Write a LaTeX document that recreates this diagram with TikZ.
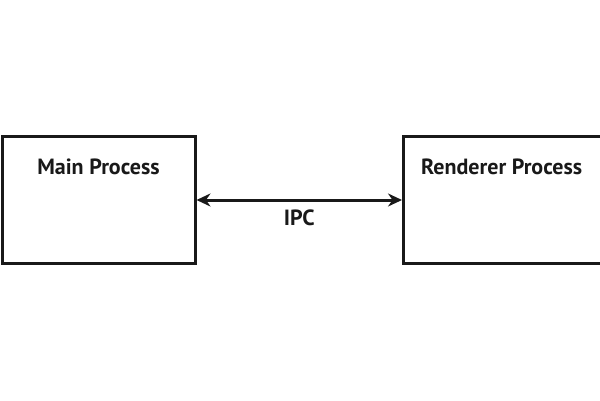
\documentclass[tikz,border=0pt]{standalone}
\usepackage{fontspec}
\setmainfont{PT Sans}
\usetikzlibrary{positioning,arrows.meta,calc}

\begin{document}
\begin{tikzpicture}[
  x=1pt,y=1pt,
  font=\fontsize{22}{26}\selectfont\bfseries,
  proc/.style={draw=black!90,line width=3pt,minimum width=193pt,minimum height=127pt,inner sep=0pt},
  title/.style={anchor=base,inner sep=0pt,text=black!90},
  ar/.style={{Stealth[length=14pt,width=13pt]}-{Stealth[length=14pt,width=13pt]},draw=black!90,line width=3pt},
]
\useasboundingbox (0,0) rectangle (600,400);
\node[proc] (main) at (98.5,200) {};
\node[proc,minimum width=199pt] (rend) at (503,200) {};
\node[title] (maintxt) at ($(main.north)+(0,-39)$) {Main Process};
\node[title] (rendtxt) at ($(rend.north)+(-1.3,-39)$) {Renderer Process};
\draw[ar] (main.east) -- node[title,pos=0.5,yshift=-25] (ipc) {IPC} (rend.west);
\end{tikzpicture}
\end{document}
